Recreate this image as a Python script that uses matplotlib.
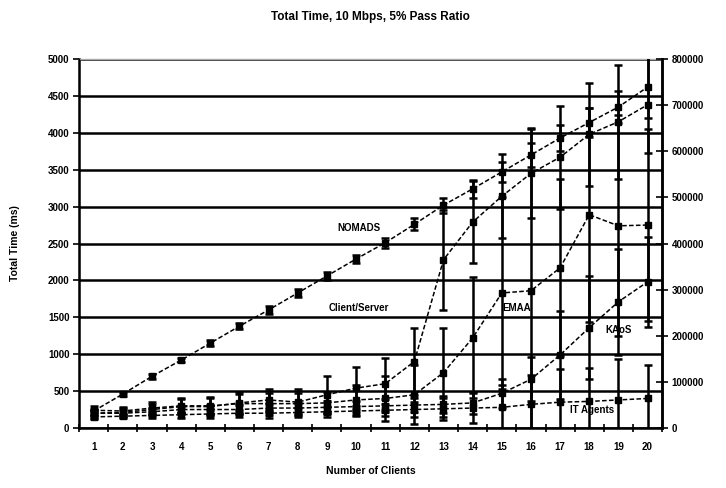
"""Total time vs number of clients, 10 Mbps, 5% pass ratio."""

import matplotlib
matplotlib.use("Agg")
import matplotlib.pyplot as plt
import numpy as np

plt.rcParams["font.family"] = ["Liberation Sans", "DejaVu Sans"]

clients = list(range(1, 21))

nomads = [230, 460, 700, 920, 1150, 1380, 1600, 1830, 2060, 2290,
          2510, 2760, 3020, 3240, 3470, 3700, 3930, 4140, 4350, 4620]
nomads_err = [20, 20, 30, 30, 40, 40, 50, 50, 60, 60,
              70, 80, 100, 120, 140, 160, 180, 200, 220, 420]

client_server = [200, 210, 250, 290, 290, 340, 380, 350, 450, 540,
                 600, 900, 2280, 2790, 3140, 3450, 3670, 3980, 4150, 4380]
client_server_err = [60, 60, 80, 100, 120, 150, 150, 180, 250, 280,
                     350, 450, 680, 560, 570, 600, 700, 700, 770, 650]

emaa = [240, 230, 270, 300, 300, 330, 330, 330, 340, 380,
        400, 450, 750, 1220, 1830, 1860, 2170, 2890, 2740, 2750]
emaa_err = [60, 60, 80, 100, 120, 130, 150, 150, 150, 200,
            300, 400, 600, 820, 1300, 2200, 1200, 1450, 1500, 1300]

kaos = [200, 200, 220, 250, 250, 250, 270, 270, 280, 290,
        300, 310, 320, 340, 470, 660, 990, 1360, 1710, 1980]
kaos_err = [40, 40, 50, 50, 60, 60, 60, 70, 80, 80,
            90, 100, 120, 150, 200, 300, 600, 700, 720, 610]

it_agents = [150, 160, 170, 180, 190, 200, 200, 210, 220, 230,
             240, 250, 260, 270, 280, 320, 350, 360, 380, 400]
it_agents_err = [30, 30, 40, 40, 50, 50, 60, 60, 70, 70,
                 80, 100, 150, 200, 300, 400, 450, 450, 560, 450]

left_ticks = list(range(0, 5001, 500))
right_ticks = list(range(0, 800001, 100000))

series = [
    (nomads, nomads_err),
    (client_server, client_server_err),
    (emaa, emaa_err),
    (kaos, kaos_err),
    (it_agents, it_agents_err),
]

labels = [
    ("NOMADS", 10.1, 2710),
    ("Client/Server", 10.1, 1630),
    ("EMAA", 15.5, 1630),
    ("KAoS", 19.0, 1330),
    ("IT Agents", 18.1, 250),
]

fig = plt.figure(figsize=(7.26, 4.88), dpi=100)
ax = fig.add_axes([0.109, 0.123, 0.803, 0.756])

for vals, err in series:
    ax.errorbar(clients, vals, yerr=err, color="black", lw=1.1, ls=(0, (3, 1.5)),
                ecolor="black", elinewidth=1.8, capsize=3, capthick=1.8, zorder=3)
    # markers drawn on top of the error bars
    ax.plot(clients, vals, ls="none", marker="s", ms=4.5, color="black", zorder=4)

for text, xt, yt in labels:
    ax.text(xt, yt, text, fontsize=7, fontweight="bold", ha="center", va="center",
            zorder=5)

ax.set_xlim(0.5, 20.5)
ax.set_ylim(0, 5000)
ax.set_yticks(left_ticks)
ax.set_yticklabels([str(v) for v in left_ticks], fontsize=7, fontweight="bold")
ax.yaxis.grid(True, color="black", lw=1.8)
ax.set_axisbelow(True)

ax.set_xticks(np.arange(0.5, 21, 1))
ax.set_xticklabels([])
ax.set_xticks(clients, minor=True)
ax.set_xticklabels([str(c) for c in clients], minor=True, fontsize=7, fontweight="bold")
ax.tick_params(axis="x", which="major", direction="inout", length=6, width=1.2)
ax.tick_params(axis="x", which="minor", length=0, pad=10)
ax.tick_params(axis="y", direction="out", length=4, width=1.2, pad=3)

for side in ["left", "bottom", "right"]:
    ax.spines[side].set_linewidth(1.8)
ax.spines["top"].set_color("#aaaaaa")
ax.spines["top"].set_linewidth(1)

ax2 = ax.twinx()
ax2.set_ylim(0, 800000)
ax2.set_yticks(right_ticks)
ax2.set_yticklabels([str(v) for v in right_ticks], fontsize=7, fontweight="bold")
ax2.tick_params(axis="y", direction="inout", length=8, width=1.2, pad=3)
ax2.spines["right"].set_linewidth(1.8)
ax2.spines["top"].set_visible(False)

ax.set_title("Total Time, 10 Mbps, 5% Pass Ratio", fontsize=8.5, fontweight="bold", pad=28)
ax.set_xlabel("Number of Clients", fontsize=7.5, fontweight="bold", labelpad=10)
ax.set_ylabel("Total Time (ms)", fontsize=7.5, fontweight="bold", labelpad=20)

fig.savefig("out.png", dpi=100)
